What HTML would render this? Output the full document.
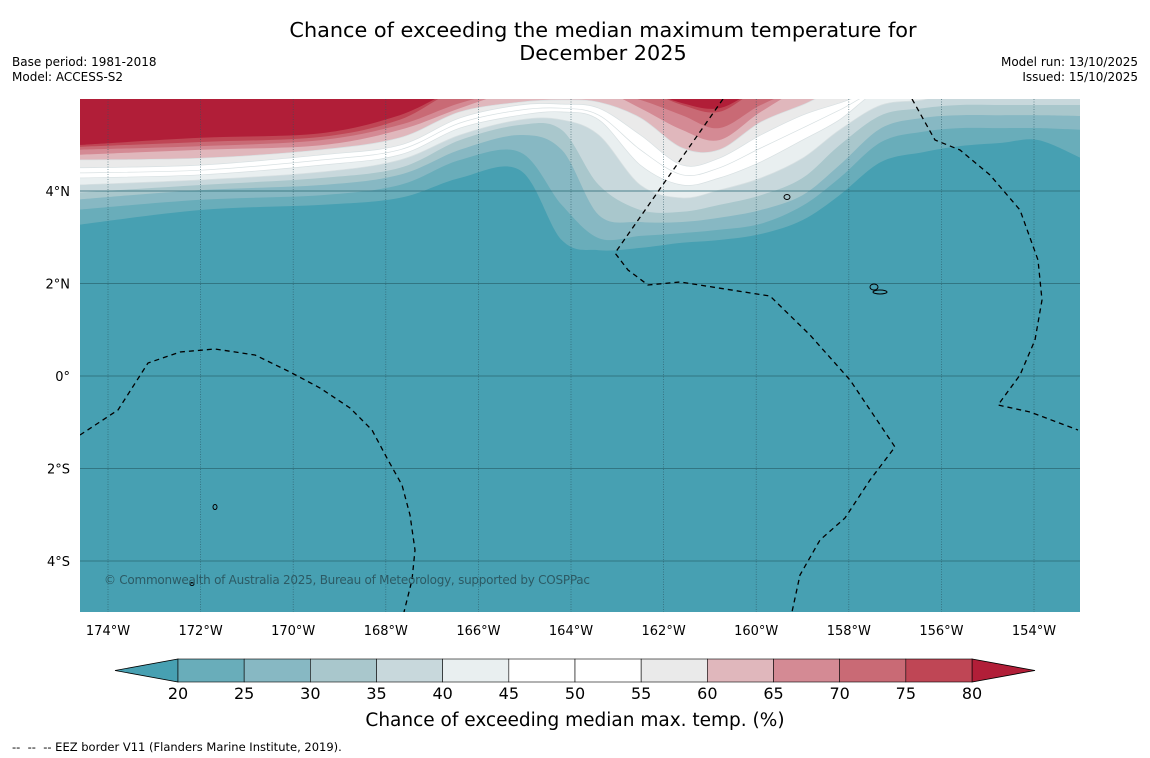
<!DOCTYPE html>
<html><head><meta charset="utf-8">
<style>
html,body{margin:0;padding:0;background:#fff;}
body{width:1150px;height:758px;position:relative;overflow:hidden;font-family:"DejaVu Sans","Liberation Sans",sans-serif;}
.t{position:absolute;color:#000;white-space:nowrap;}
</style></head>
<body>
<div class="t" style="left:0;width:1206px;top:19px;text-align:center;font-size:20.8px;line-height:23px;">Chance of exceeding the median maximum temperature for<br>December 2025</div>
<div class="t" style="left:12px;top:55px;font-size:12px;line-height:15px;">Base period: 1981-2018<br>Model: ACCESS-S2</div>
<div class="t" style="right:12px;top:55px;font-size:12px;line-height:15px;text-align:right;">Model run: 13/10/2025<br>Issued: 15/10/2025</div>
<svg id="map" width="1150" height="758" style="position:absolute;left:0;top:0;" xmlns="http://www.w3.org/2000/svg"></svg>
<div class="t" style="left:12px;top:740px;font-size:11.5px;">--&nbsp; --&nbsp; -- EEZ border V11 (Flanders Marine Institute, 2019).</div>
<script>
// Data
const levels = [20,25,30,35,40,45,50,55,60,65,70,75,80];
const bandColors = ['#47a0b2','#69adba','#87b8c3','#a9c7cc','#c8d8dc','#e9eff0','#ffffff','#ffffff','#eaeaea','#e0b7bc','#d48a94','#c96a75','#bf4655','#b11e38'];
const sampleLons = [-174.6,-172.0,-169.4,-167.7,-166.4,-165.1,-164.2,-163.4,-162.5,-161.6,-160.8,-159.9,-159.0,-158.2,-157.3,-156.4,-155.6,-154.7,-153.9,-153.0];
const contour20 = [3.26,3.59,3.70,3.85,4.28,4.45,2.94,2.72,2.77,2.88,2.94,3.07,3.37,3.91,4.63,4.84,4.97,5.04,5.10,4.67];
const contour25 = [3.59,3.81,3.91,4.13,4.67,4.84,3.70,2.98,3.03,3.09,3.16,3.29,3.68,4.28,5.06,5.28,5.36,5.36,5.36,5.32];
const contour30 = [3.81,4.02,4.13,4.35,4.89,5.21,4.89,3.48,3.33,3.33,3.42,3.59,3.91,4.56,5.36,5.58,5.64,5.64,5.64,5.62];
const contour35 = [3.96,4.13,4.28,4.50,5.10,5.43,5.32,4.13,3.59,3.55,3.70,3.91,4.28,4.99,5.64,5.79,5.86,5.86,5.86,5.86];
const contour40 = [4.13,4.24,4.41,4.67,5.21,5.54,5.54,5.21,4.13,3.85,4.02,4.28,4.71,5.32,5.86,5.97,6.20,6.20,6.20,6.20];
const contour45 = [4.28,4.35,4.56,4.78,5.36,5.64,5.71,5.54,4.56,4.13,4.28,4.63,5.10,5.54,6.20,6.20,6.20,6.20,6.20,6.20];
const contour50 = [4.39,4.45,4.67,4.89,5.47,5.75,5.79,5.64,4.89,4.35,4.50,4.93,5.36,5.75,6.20,6.20,6.20,6.20,6.20,6.20];
const contour55 = [4.50,4.56,4.78,4.99,5.58,5.86,5.88,5.79,5.21,4.56,4.71,5.21,5.64,5.90,6.20,6.20,6.20,6.20,6.20,6.20];
const contour60 = [4.67,4.71,4.89,5.15,5.71,5.92,5.97,5.92,5.58,4.93,4.89,5.49,5.86,6.20,6.20,6.20,6.20,6.20,6.20,6.20];
const contour65 = [4.78,4.89,4.99,5.32,5.79,6.20,6.20,6.20,5.79,5.32,5.10,5.71,6.20,6.20,6.20,6.20,6.20,6.20,6.20,6.20];
const contour70 = [4.89,4.97,5.10,5.43,5.90,6.20,6.20,6.20,5.97,5.64,5.36,5.86,6.20,6.20,6.20,6.20,6.20,6.20,6.20,6.20];
const contour75 = [4.95,5.06,5.17,5.54,6.20,6.20,6.20,6.20,6.20,5.86,5.71,6.20,6.20,6.20,6.20,6.20,6.20,6.20,6.20,6.20];
const contour80 = [4.99,5.15,5.25,5.64,6.20,6.20,6.20,6.20,6.20,5.90,5.79,6.20,6.20,6.20,6.20,6.20,6.20,6.20,6.20,6.20];
const contours = [contour20,contour25,contour30,contour35,contour40,contour45,contour50,contour55,contour60,contour65,contour70,contour75,contour80];
const lonTicks = [-174,-172,-170,-168,-166,-164,-162,-160,-158,-156,-154];
const latTicks = [4,2,0,-2,-4];
const cbTicks = [20,25,30,35,40,45,50,55,60,65,70,75,80];

const NS='http://www.w3.org/2000/svg';
const svg=document.getElementById('map');
const X0=80,X1=1080,Y0=99,Y1=612;
const FONT='DejaVu Sans, sans-serif';
const xs=lon=>108+(lon+174)*46.3;
const ys=lat=>376-lat*46.25;
function mk(tag,attrs,parent){const e=document.createElementNS(NS,tag);for(const k in attrs)e.setAttribute(k,attrs[k]);(parent||svg).appendChild(e);return e;}
const defs=mk('defs',{});
const cp=mk('clipPath',{id:'mapclip'},defs);
mk('rect',{x:X0,y:Y0,width:X1-X0,height:Y1-Y0},cp);
const g=mk('g',{'clip-path':'url(#mapclip)'});
const bg=mk('rect',{x:X0,y:Y0,width:X1-X0,height:Y1-Y0,fill:bandColors[0]},g);


function smooth(pts){
  let d='M'+pts[0][0]+','+pts[0][1];
  for(let i=0;i<pts.length-1;i++){
    const p0=pts[Math.max(0,i-1)],p1=pts[i],p2=pts[i+1],p3=pts[Math.min(pts.length-1,i+2)];
    const c1=[p1[0]+(p2[0]-p0[0])/6,p1[1]+(p2[1]-p0[1])/6];
    const c2=[p2[0]-(p3[0]-p1[0])/6,p2[1]-(p3[1]-p1[1])/6];
    d+=' C'+c1[0].toFixed(1)+','+c1[1].toFixed(1)+' '+c2[0].toFixed(1)+','+c2[1].toFixed(1)+' '+p2[0].toFixed(1)+','+p2[1].toFixed(1);
  }
  return d;
}
contours.forEach((c,i)=>{
  const pts=sampleLons.map((lon,j)=>[xs(lon),ys(c[j])]);
  pts[0][0]=X0-5;pts[pts.length-1][0]=X1+5;
  const d=smooth(pts)+' L'+(X1+5)+','+(Y0-30)+' L'+(X0-5)+','+(Y0-30)+' Z';
  const p=mk('path',{d:d,fill:bandColors[i+1],stroke:i>=4&&i<=8?'#d8e0e2':'none','stroke-width':0.7},g);
  
  
});
lonTicks.forEach(lon=>{
  const l=mk('line',{x1:xs(lon),x2:xs(lon),y1:Y0,y2:Y1,stroke:'#2a5560','stroke-width':0.7,'stroke-dasharray':'1,1.5',opacity:0.8},g);
  
  
});
latTicks.forEach(lat=>{
  const l=mk('line',{x1:X0,x2:X1,y1:ys(lat),y2:ys(lat),stroke:'#2e6c78','stroke-width':1,opacity:0.8},g);
  
  
});
const eez=[
 [[723,99],[615,253],[628,270],[648,285],[680,282],[770,296],[810,335],[850,380],[895,447],[870,480],[845,518],[820,540],[800,575],[792,612]],
 [[912,99],[935,140],[960,150],[990,175],[1020,210],[1038,260],[1042,300],[1035,340],[1020,375],[998,405],[1030,412],[1078,430]],
 [[80,435],[118,410],[148,363],[180,352],[215,349],[255,355],[290,372],[320,388],[350,408],[372,430],[388,460],[402,485],[410,515],[415,550],[412,580],[404,612]]
];
eez.forEach(pl=>{
  const l=mk('polyline',{points:pl.map(p=>p.join(',')).join(' '),fill:'none',stroke:'#000','stroke-width':1.3,'stroke-dasharray':'5,4'},g);
  
  
});
[[787,197,3,2.5],[874,287,4,3],[880,292,7,2],[215,507,2,2.5],[192,584,2,1.5]].forEach(s=>{
  const e=mk('ellipse',{cx:s[0],cy:s[1],rx:s[2],ry:s[3],fill:'none',stroke:'#000','stroke-width':1},g);
  
  
});
const cr=mk('text',{x:104,y:584,'font-size':12,fill:'#2c5a64','font-family':FONT,textLength:486},g);
cr.textContent='© Commonwealth of Australia 2025, Bureau of Meteorology, supported by COSPPac';


lonTicks.forEach(lon=>{
  const t=mk('text',{x:xs(lon),y:635,'text-anchor':'middle','font-size':13,'font-family':FONT});
  t.textContent=Math.abs(lon)+'°W';
  
  
});
latTicks.forEach(lat=>{
  const t=mk('text',{x:70,y:ys(lat)+5,'text-anchor':'end','font-size':13,'font-family':FONT});
  t.textContent=lat===0?'0°':Math.abs(lat)+'°'+(lat>0?'N':'S');
  
  
});
const cb0=178,cb1=972,cy0=659,cy1=682;
const cbx=v=>cb0+(v-20)/60*(cb1-cb0);
const lt=mk('polygon',{points:`115,670.5 ${cb0},${cy0} ${cb0},${cy1}`,fill:bandColors[0],stroke:'#000','stroke-width':0.8});


const rt=mk('polygon',{points:`1035,670.5 ${cb1},${cy0} ${cb1},${cy1}`,fill:bandColors[13],stroke:'#000','stroke-width':0.8});


for(let i=0;i<levels.length-1;i++){
  const r=mk('rect',{x:cbx(levels[i]),y:cy0,width:cbx(levels[i+1])-cbx(levels[i]),height:cy1-cy0,fill:bandColors[i+1],stroke:'#000','stroke-width':0.6});
  
  
}
cbTicks.forEach(v=>{
  const t=mk('text',{x:cbx(v),y:699,'text-anchor':'middle','font-size':16,'font-family':FONT});
  t.textContent=v;
  
  
});
const ct=mk('text',{x:575,y:726,'text-anchor':'middle','font-size':18.5,'font-family':FONT});
ct.textContent='Chance of exceeding median max. temp. (%)';


</script>
</body></html>
